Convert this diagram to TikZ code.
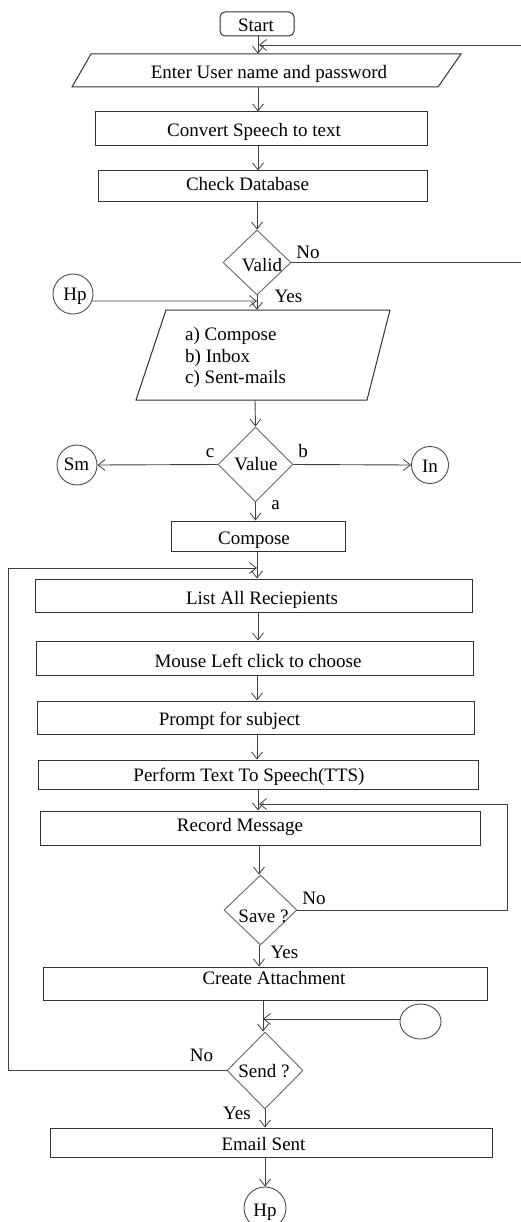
\documentclass[tikz,border=0pt]{standalone}
\usepackage{fontspec}
\setmainfont{Liberation Serif}
\usetikzlibrary{arrows.meta,shapes.geometric}
\begin{document}
\begin{tikzpicture}[x=1pt,y=-1pt,
  font=\fontsize{19}{21.5}\selectfont,
  ln/.style={draw=black!75, line width=0.9pt},
  arr/.style={ln, -{Straight Barb[length=7pt,width=11pt,line width=0.8pt]}},
  box/.style={draw=black!80, line width=1pt, rectangle, inner sep=0pt},
  outline/.style={draw=black!80, line width=1pt},
  dia/.style={draw=black!60, line width=0.9pt, diamond, inner sep=0pt},
  conn/.style={draw=black!70, line width=0.9pt, circle, inner sep=0pt},
  txt/.style={inner sep=0pt, anchor=base},
  ghost/.style={inner sep=0pt, rectangle}
]
\useasboundingbox (0,0) rectangle (521,1222);

% ---------- shapes ----------
\node[box, rounded corners=5pt, minimum width=74pt, minimum height=24pt] (start) at (257,24) {};
\node[txt] (tstart) at (256,31.5) {Start};

\node[ghost, minimum width=389pt, minimum height=33pt] (enter) at (266.5,70.5) {};
\draw[outline] (91,54) -- (461,54) -- (438,87) -- (72,87) -- cycle;
\node[txt] (tenter) at (269,78.5) {Enter User name and password};

\node[box, minimum width=332pt, minimum height=34pt] (conv) at (261,129) {};
\node[txt] (tconv) at (254,136.5) {Convert Speech to text};

\node[box, minimum width=329pt, minimum height=31pt] (check) at (262.5,186.5) {};
\node[txt] (tcheck) at (247.5,190.5) {Check Database};

\node[dia, minimum width=68pt, minimum height=65pt] (valid) at (257,262.5) {};
\node[txt] (tvalid) at (262,271.5) {Valid};
\node[txt] (lno1) at (308,258.5) {No};
\node[txt] (lyes1) at (288.5,302.5) {Yes};

\node[conn, minimum size=40pt] (hp1) at (73,294) {};
\node[txt] (thp1) at (75,300.5) {Hp};

\node[ghost, minimum width=254pt, minimum height=90pt] (menu) at (263,355) {};
\draw[outline] (166,310) -- (390,310) -- (367,400) -- (136,400) -- cycle;
\node[txt, anchor=base west] (ta) at (185,340.5) {a) Compose};
\node[txt, anchor=base west] (tb) at (185,362) {b) Inbox};
\node[txt, anchor=base west] (tc) at (185,383.5) {c) Sent-mails};

\node[dia, minimum width=75pt, minimum height=75pt] (value) at (255.5,464.5) {};
\node[txt] (tvalue) at (256,470) {Value};
\node[txt] (lc) at (210,457) {c};
\node[txt] (lb) at (303,457) {b};
\node[txt] (la) at (275.5,509.5) {a};

\node[conn, minimum size=40pt] (sm) at (77,465) {};
\node[txt] (tsm) at (76.5,470.5) {Sm};
\node[conn, minimum size=37pt] (in) at (430,465) {};
\node[txt] (tin) at (430,472.5) {In};

\node[box, minimum width=174pt, minimum height=30pt] (compose) at (258,536) {};
\node[txt] (tcompose) at (254,544) {Compose};

\node[box, minimum width=437pt, minimum height=33pt] (list) at (253.5,595.5) {};
\node[txt] (tlist) at (262,604.5) {List All Reciepients};

\node[box, minimum width=437pt, minimum height=34pt] (mouse) at (254.5,658) {};
\node[txt] (tmouse) at (258,667.5) {Mouse Left click to choose};

\node[box, minimum width=437pt, minimum height=33pt] (prompt) at (255.5,717.5) {};
\node[txt] (tprompt) at (229.5,725.5) {Prompt for subject};

\node[box, minimum width=440pt, minimum height=29pt] (perform) at (258,774.5) {};
\node[txt] (tperform) at (249,781.5) {Perform Text To Speech(TTS)};

\node[box, minimum width=440pt, minimum height=34pt] (record) at (260,828) {};
\node[txt] (trecord) at (240,831.5) {Record Message};

\node[dia, minimum width=73pt, minimum height=70pt] (save) at (260.5,910) {};
\node[txt] (tsave) at (263.5,922) {Save ?};
\node[txt] (lno2) at (314,904.5) {No};
\node[txt] (lyes2) at (284.5,958.5) {Yes};

\node[box, minimum width=444pt, minimum height=33pt] (create) at (265,983.5) {};
\node[txt] (tcreate) at (274,984.5) {Create Attachment};

\node[draw=black!70, line width=0.9pt, ellipse, inner sep=0pt, minimum width=41pt, minimum height=35pt] (side) at (420.5,1021.5) {};

\node[dia, minimum width=76pt, minimum height=77pt] (send) at (265,1070.5) {};
\node[txt] (tsend) at (264,1077.5) {Send ?};
\node[txt] (lno3) at (201.5,1061.5) {No};
\node[txt] (lyes3) at (237,1119.5) {Yes};

\node[box, minimum width=442pt, minimum height=29pt] (email) at (271,1142.5) {};
\node[txt] (temail) at (263.5,1150.5) {Email Sent};

\node[conn, minimum size=42pt] (hp2) at (265,1208) {};
\node[txt] (thp2) at (265,1216) {Hp};

% ---------- helper coordinates ----------
\coordinate (x258) at (258,0);
\coordinate (x257) at (257,0);
\coordinate (x255) at (255,0);
\coordinate (x259) at (259,0);
\coordinate (x263) at (263,0);
\coordinate (x265) at (265,0);
\coordinate (rt1) at (521,45);
\coordinate (rt2) at (521,262.5);
\coordinate (jhp) at (257,301);
\coordinate (lpA) at (8,1070.5);
\coordinate (lpB) at (8,568);
\coordinate (lpC) at (257,568);
\coordinate (svA) at (507,910);
\coordinate (svB) at (507,804);
\coordinate (svC) at (259,804);
\coordinate (sdC) at (263,1019);

% ---------- connectors ----------
\draw[arr] (start.south -| x258) -- (enter.north -| x258);
\draw[arr] (rt1) -- (259,45);
\draw[arr] (enter.south -| x258) -- (conv.north -| x258);
\draw[arr] (conv.south -| x258) -- (check.north -| x258);
\draw[arr] (check.south -| x257) -- (valid.north);
\draw[ln] (valid.east) -- (rt2);
\draw[arr] (valid.south) -- (menu.north -| x257);
\draw[arr] (hp1.-20) -- (jhp);
\draw[arr] (menu.south -| x255) -- (value.north);
\draw[arr] (value.west) -- (sm.east);
\draw[arr] (value.east) -- (in.west);
\draw[arr] (value.south) -- (compose.north -| value.south);
\draw[arr] (compose.south -| x257) -- (list.north -| x257);
\draw[arr] (send.west) -- (lpA) -- (lpB) -- (lpC);
\draw[arr] (list.south -| x258) -- (mouse.north -| x258);
\draw[arr] (mouse.south -| x257) -- (prompt.north -| x257);
\draw[arr] (prompt.south -| x257) -- (perform.north -| x257);
\draw[arr] (perform.south -| x258) -- (record.north -| x258);
\draw[arr] (save.east) -- (svA) -- (svB) -- (svC);
\draw[arr] (record.south -| x259) -- (save.north -| x259);
\draw[arr] (save.south -| x259) -- (create.north -| x259);
\draw[arr] (create.south -| x263) -- (send.north -| x263);
\draw[arr] (side.west |- sdC) -- (sdC);
\draw[arr] (send.south -| x265) -- (email.north -| x265);
\draw[arr] (email.south -| x265) -- (hp2.north);
\end{tikzpicture}
\end{document}
